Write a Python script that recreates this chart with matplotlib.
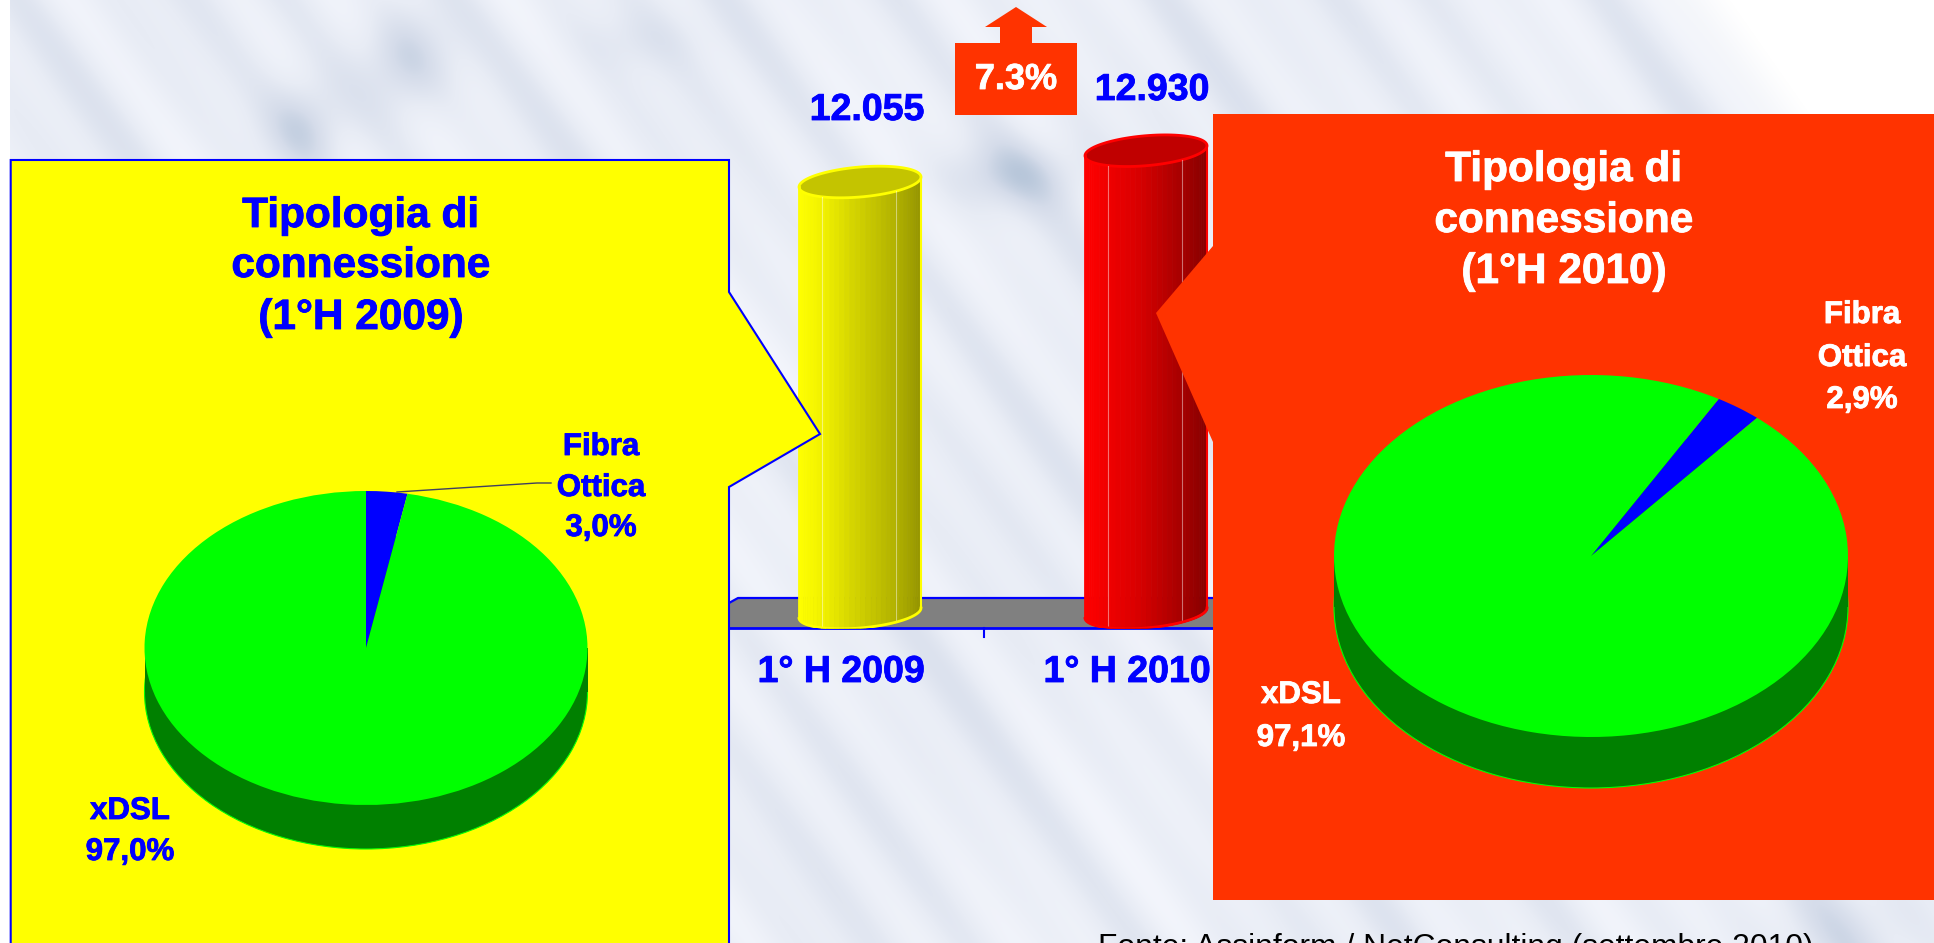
#!/usr/bin/env python3
import numpy as np
import matplotlib
matplotlib.use("Agg")
import matplotlib.pyplot as plt
import matplotlib.patheffects as pe
from matplotlib.colors import LinearSegmentedColormap

W, H = 1934, 943

# dati
periods = ['1° H 2009', '1° H 2010']
totals = [12055, 12930]
total_labels = ['12.055', '12.930']
growth_label = '7.3%'
pie_names = ['Fibra\nOttica', 'xDSL']
pie_2009 = [3.0, 97.0]
pie_2010 = [2.9, 97.1]
title_2009 = ['Tipologia di', 'connessione', '(1°H 2009)']
title_2010 = ['Tipologia di', 'connessione', '(1°H 2010)']
source = 'Fonte: Assinform / NetConsulting (settembre 2010)'

BLUE = '#0000ff'
ORANGE = '#ff3300'
plt.rcParams['font.family'] = ['Liberation Sans', 'DejaVu Sans']


def full_axes(fig, zorder):
    ax = fig.add_axes([0, 0, 1, 1], zorder=zorder)
    ax.set_xlim(0, W)
    ax.set_ylim(H, 0)
    ax.axis('off')
    ax.patch.set_alpha(0)
    return ax


def px_axes(fig, x0, y0, x1, y1, zorder):
    # axes definiti in pixel dell'immagine
    return fig.add_axes([x0 / W, 1 - y1 / H, (x1 - x0) / W, (y1 - y0) / H], zorder=zorder)


def background(ax):
    # sfondo a strisce diagonali, solo decorativo
    yy, xx = np.mgrid[0:H, 0:W]
    d = xx - 0.72 * yy
    tex = (0.35 * np.sin(d / 14.0) + 0.30 * np.sin(d / 23.0 + 1.0) + 0.20 * np.sin(d / 37.0 + 2.0)
           + 0.15 * np.sin((xx + 0.5 * yy) / 90.0))
    tex = tex * 0.5 + 0.5
    for bx, by, sx, sy, amp in [(405, 60, 45, 50, 1.0), (305, 125, 40, 45, 0.9), (1010, 175, 70, 35, 0.9),
                                (640, 40, 60, 30, 0.3), (1850, 930, 80, 60, 0.4)]:
        tex = tex + amp * np.exp(-((xx - bx) / sx) ** 2 - ((yy - by) / sy) ** 2)
    cmap = LinearSegmentedColormap.from_list('bg', ['#f5f7fd', '#e8ecf5', '#d5dcea', '#b4c4d8'])
    rgb = cmap(np.clip(tex / 1.8, 0, 1))[:, :, :3]
    # angolo in alto a destra e margine sinistro bianchi
    fade = np.clip((xx - 0.7 * yy - 1640) / 90.0, 0, 1)[:, :, None]
    rgb = rgb * (1 - fade) + fade
    rgb[:, :10, :] = 1
    ax.imshow(rgb, extent=(0, W, H, 0), aspect='auto', interpolation='bilinear')
    ax.set_xlim(0, W)
    ax.set_ylim(H, 0)


def draw_columns(fig):
    # scala: y=0 a 613 px, 431 px per 12055
    k = 431.0 / 12055
    step = 286.0
    ax = px_axes(fig, 698, 100, 1270, 628, 1)
    ax.set_xlim(-0.5, 1.5)
    ax.set_ylim(-15 / k, (613 - 100) / k)
    ax.patch.set_alpha(0)
    for s in ['top', 'left', 'right', 'bottom']:
        ax.spines[s].set_visible(False)
    ax.set_yticks([])
    ax.set_xticks([])

    styles = [(['#ffff00', '#f0f000', '#d8d800', '#c4c400', '#b0b000', '#949400'], '#c4c400', '#ffff00'),
              (['#ff0000', '#ee0000', '#dc0000', '#c00000', '#a40000', '#860000'], '#c00000', '#ff0000')]
    dx = 19.0 / step
    a, b, tilt = 61.0, 15.0, 5.0
    t = np.linspace(np.pi, 0, 37)
    for i, value in enumerate(totals):
        colors, top_col, edge = styles[i]
        cmap = LinearSegmentedColormap.from_list('col', colors)
        xc = i + dx
        for j in range(len(t) - 1):
            tt = np.linspace(t[j], t[j + 1], 4)
            xs = xc + a * np.cos(tt) / step
            low = -(b * np.sin(tt) - tilt * np.cos(tt)) / k
            frac = (np.cos(tt[1]) + 1) / 2
            c = cmap(frac)
            ax.fill_between(xs, low, low + value, facecolor=c, edgecolor=c, lw=0.6)
        # filetti chiari sul fianco
        for off in [-38, 36]:
            tv = np.arccos(off / a)
            yb = -(b * np.sin(tv) - tilt * off / a) / k
            ax.plot([xc + off / step] * 2, [yb, yb + value], color='white', alpha=0.45, lw=0.8)
        tt = np.linspace(0, 2 * np.pi, 100)
        ex = xc + a * np.cos(tt) / step
        ey = -(b * np.sin(tt) - tilt * np.cos(tt)) / k
        ax.fill(ex, value + ey, color=top_col, ec=edge, lw=2)
        half = tt[tt <= np.pi]
        ax.plot(xc + a * np.cos(half) / step, -(b * np.sin(half) - tilt * np.cos(half)) / k, color=edge, lw=2)
        ax.plot([xc - a / step] * 2, [-tilt / k, value - tilt / k], color=edge, lw=2)
        ax.plot([xc + a / step] * 2, [tilt / k, value + tilt / k], color=edge, lw=1.5)
    return ax


def draw_pie(fig, values, cx, cy, rx, ry, depth, start):
    d = depth / ry
    ax = px_axes(fig, cx - rx, cy - ry, cx + rx, cy + ry + depth, 3)
    ax.pie([1], colors=['#008000'], center=(0, -d), radius=1, wedgeprops={'ec': '#00ff00', 'lw': 0.8})
    ax.fill_between([-1, 1], [-d, -d], [0, 0], color='#008000', lw=0)
    ax.pie(values, colors=[BLUE, '#00ff00'], startangle=start, counterclock=False, radius=1,
           wedgeprops={'lw': 0})
    ax.set_aspect('auto')
    ax.set_xlim(-1, 1)
    ax.set_ylim(-1 - d, 1)
    ax.patch.set_alpha(0)
    ax.axis('off')


def bold_text(ax, x, y, s, color, size):
    t = ax.text(x, y, s, color=color, fontsize=size, fontweight='bold', ha='center', va='baseline')
    t.set_path_effects([pe.withStroke(linewidth=0.6, foreground=color)])
    return t


def lines(ax, cx, baselines, texts, color, size):
    for y, s in zip(baselines, texts):
        bold_text(ax, cx, y, s, color, size)


def main():
    fig = plt.figure(figsize=(W / 100, H / 100), dpi=100, facecolor='white')

    bg = full_axes(fig, 0)
    background(bg)
    bg.axis('off')

    # piano grigio del grafico
    bg.fill([729, 729, 738, 1300, 1300], [628, 603, 598, 598, 628], color='#808080', lw=0, zorder=3)
    bg.plot([729, 738, 1300], [603, 598, 598], color=BLUE, lw=1.6, zorder=4)
    bg.plot([729, 1300], [628, 628], color=BLUE, lw=2, zorder=4)
    bg.plot([984, 984], [628, 637], color=BLUE, lw=1.5, zorder=4)

    draw_columns(fig)

    top = full_axes(fig, 2)
    # etichette e freccia
    for x, s in zip([841, 1127], periods):
        bold_text(top, x, 682, s, BLUE, 27)
    for x, y, s in zip([867, 1152], [120, 100], total_labels):
        bold_text(top, x, y, s, BLUE, 27)
    top.fill([1016, 1047, 1032, 1032, 1077, 1077, 955, 955, 1000, 1000, 985],
             [7, 27, 27, 43, 43, 115, 115, 43, 43, 27, 27], color=ORANGE, lw=0)
    bold_text(top, 1016, 89, growth_label, 'white', 26)

    # riquadro giallo
    top.fill([10.7, 729, 729, 820, 729, 729, 10.7], [160, 160, 292, 434, 487, 950, 950],
             fc='#ffff00', ec=BLUE, lw=1.5)
    # riquadro arancione
    top.fill([1213, 1934, 1934, 1213, 1213, 1156, 1213], [114, 114, 900, 900, 442, 313, 246],
             fc=ORANGE, ec='none', lw=0)

    lines(top, 361, [227, 277, 329], title_2009, BLUE, 30.5)
    lines(top, 1564, [181, 232, 283], title_2010, 'white', 30.5)

    draw_pie(fig, pie_2009, 366, 648, 221.5, 157, 44, 90)
    draw_pie(fig, pie_2010, 1591, 556, 257, 181, 51, 60.2)

    labels = full_axes(fig, 4)
    fibra, ottica = pie_names[0].split('\n')
    lines(labels, 601, [455, 496, 536], [fibra, ottica, f'{pie_2009[0]:.1f}%'.replace('.', ',')], BLUE, 22.5)
    lines(labels, 130, [819, 860], [pie_names[1], f'{pie_2009[1]:.1f}%'.replace('.', ',')], BLUE, 22.5)
    lines(labels, 1862, [323, 366, 408], [fibra, ottica, f'{pie_2010[0]:.1f}%'.replace('.', ',')], 'white', 22.5)
    lines(labels, 1301, [703, 746], [pie_names[1], f'{pie_2010[1]:.1f}%'.replace('.', ',')], 'white', 22.5)
    labels.plot([397, 537, 551], [492, 483, 483], color='#404060', lw=1)
    # come nell'originale, il testo della fonte esce dal bordo inferiore
    labels.text(1098, 956, source, color='black', fontsize=22.9, ha='left', va='baseline')

    fig.savefig('out.png', dpi=100)


if __name__ == "__main__":
    main()
